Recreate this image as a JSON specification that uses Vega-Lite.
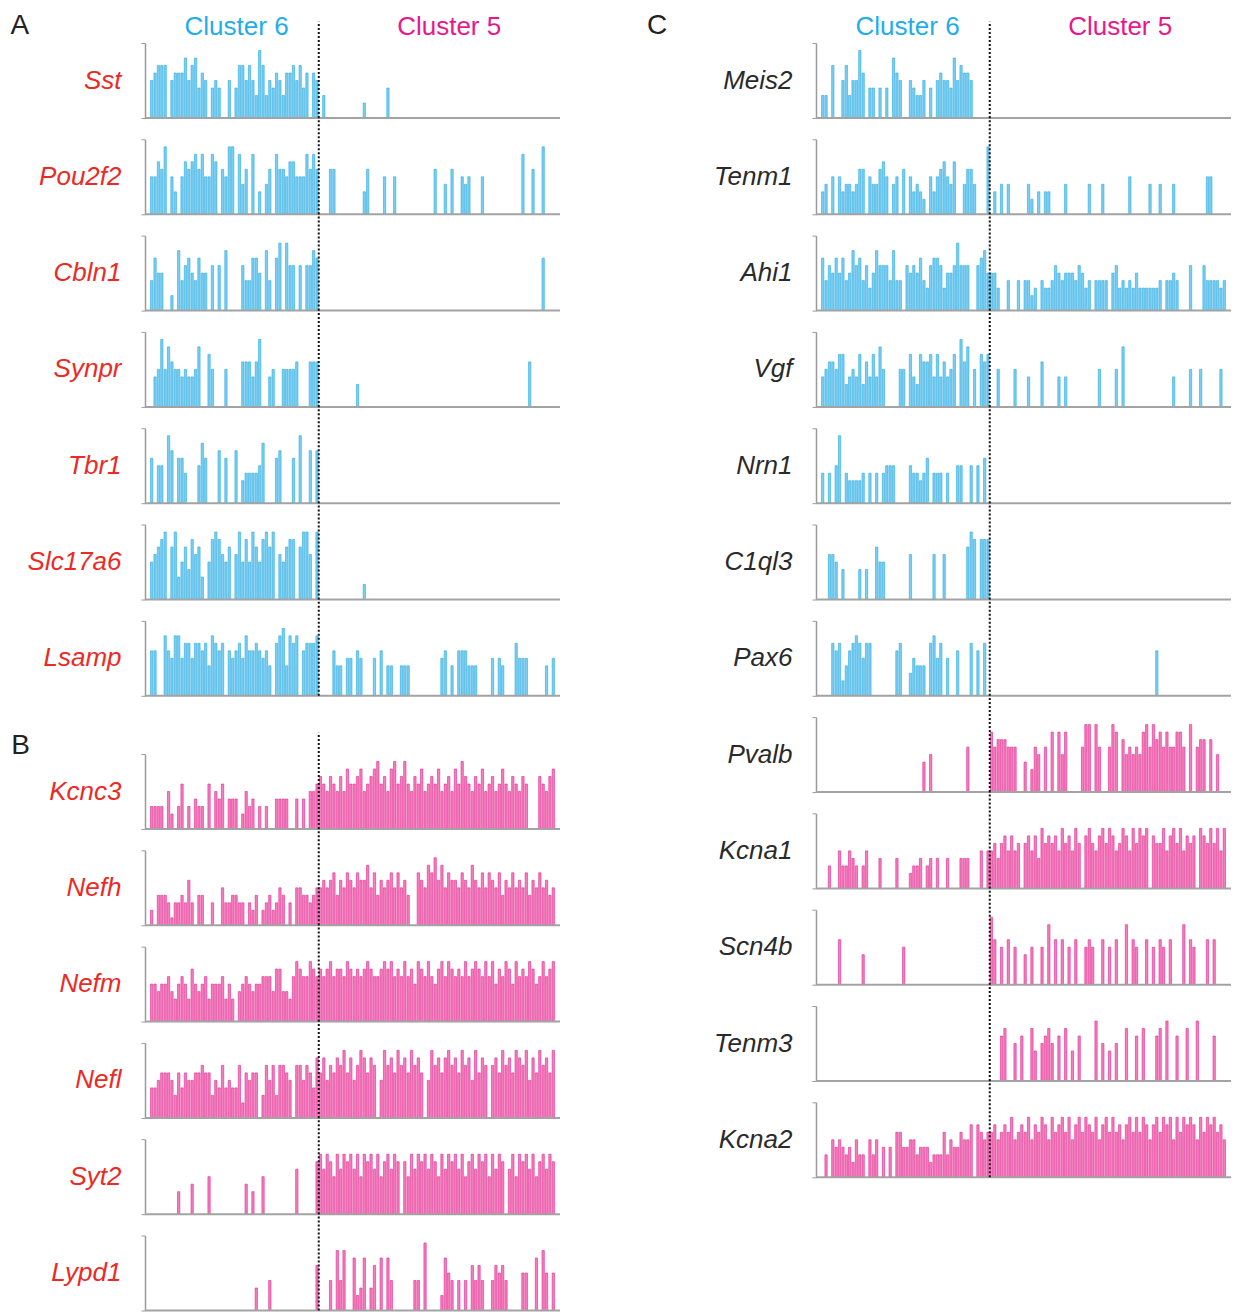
{
"$schema": "https://vega.github.io/schema/vega-lite/v6.json",
"padding": {"left": 10, "top": 12, "right": 0, "bottom": 0},
"background": "white",
"config": {"view": {"stroke": null}, "font": "Liberation Sans"},
"datasets": {
"genes": [
{"g":"Sst","p":"A","m":"6"},{"g":"Pou2f2","p":"A","m":"6"},{"g":"Cbln1","p":"A","m":"6"},{"g":"Synpr","p":"A","m":"6"},{"g":"Tbr1","p":"A","m":"6"},{"g":"Slc17a6","p":"A","m":"6"},{"g":"Lsamp","p":"A","m":"6"},
{"g":"Kcnc3","p":"B","m":"5"},{"g":"Nefh","p":"B","m":"5"},{"g":"Nefm","p":"B","m":"5"},{"g":"Nefl","p":"B","m":"5"},{"g":"Syt2","p":"B","m":"5"},{"g":"Lypd1","p":"B","m":"5"},
{"g":"Meis2","p":"C","m":"6"},{"g":"Tenm1","p":"C","m":"6"},{"g":"Ahi1","p":"C","m":"6"},{"g":"Vgf","p":"C","m":"6"},{"g":"Nrn1","p":"C","m":"6"},{"g":"C1ql3","p":"C","m":"6"},{"g":"Pax6","p":"C","m":"6"},
{"g":"Pvalb","p":"C","m":"5"},{"g":"Kcna1","p":"C","m":"5"},{"g":"Scn4b","p":"C","m":"5"},{"g":"Tenm3","p":"C","m":"5"},{"g":"Kcna2","p":"C","m":"5"}
],
"bars": [
{"g":"Sst","x":1,"v":5},{"g":"Sst","x":2,"v":6},{"g":"Sst","x":3,"v":7},{"g":"Sst","x":4,"v":7},{"g":"Sst","x":5,"v":7},{"g":"Sst","x":7,"v":5},{"g":"Sst","x":8,"v":6},{"g":"Sst","x":9,"v":6},{"g":"Sst","x":10,"v":6},{"g":"Sst","x":11,"v":8},{"g":"Sst","x":12,"v":5},{"g":"Sst","x":13,"v":7},{"g":"Sst","x":14,"v":8},{"g":"Sst","x":15,"v":4},{"g":"Sst","x":16,"v":6},{"g":"Sst","x":17,"v":5},{"g":"Sst","x":19,"v":4},{"g":"Sst","x":20,"v":5},{"g":"Sst","x":21,"v":4},{"g":"Sst","x":24,"v":5},{"g":"Sst","x":26,"v":4},{"g":"Sst","x":27,"v":7},{"g":"Sst","x":28,"v":7},{"g":"Sst","x":29,"v":5},{"g":"Sst","x":30,"v":7},{"g":"Sst","x":31,"v":5},{"g":"Sst","x":32,"v":3},{"g":"Sst","x":33,"v":9},{"g":"Sst","x":34,"v":7},{"g":"Sst","x":35,"v":3},{"g":"Sst","x":36,"v":5},{"g":"Sst","x":37,"v":4},{"g":"Sst","x":38,"v":6},{"g":"Sst","x":39,"v":5},{"g":"Sst","x":40,"v":3},{"g":"Sst","x":41,"v":6},{"g":"Sst","x":42,"v":6},{"g":"Sst","x":43,"v":7},{"g":"Sst","x":44,"v":5},{"g":"Sst","x":45,"v":7},{"g":"Sst","x":46,"v":4},{"g":"Sst","x":47,"v":6},{"g":"Sst","x":49,"v":6},{"g":"Sst","x":50,"v":5},
{"g":"Sst","x":52,"v":3},{"g":"Sst","x":64,"v":2},{"g":"Sst","x":71,"v":4},
{"g":"Pou2f2","x":1,"v":5},{"g":"Pou2f2","x":2,"v":5},{"g":"Pou2f2","x":3,"v":7},{"g":"Pou2f2","x":4,"v":6},{"g":"Pou2f2","x":5,"v":9},{"g":"Pou2f2","x":7,"v":5},{"g":"Pou2f2","x":8,"v":3},{"g":"Pou2f2","x":10,"v":5},{"g":"Pou2f2","x":11,"v":7},{"g":"Pou2f2","x":12,"v":6},{"g":"Pou2f2","x":13,"v":7},{"g":"Pou2f2","x":14,"v":8},{"g":"Pou2f2","x":15,"v":6},{"g":"Pou2f2","x":16,"v":8},{"g":"Pou2f2","x":17,"v":5},{"g":"Pou2f2","x":18,"v":5},{"g":"Pou2f2","x":19,"v":8},{"g":"Pou2f2","x":20,"v":7},{"g":"Pou2f2","x":22,"v":6},{"g":"Pou2f2","x":23,"v":5},{"g":"Pou2f2","x":24,"v":9},{"g":"Pou2f2","x":25,"v":9},{"g":"Pou2f2","x":27,"v":8},{"g":"Pou2f2","x":28,"v":4},{"g":"Pou2f2","x":29,"v":6},{"g":"Pou2f2","x":31,"v":8},{"g":"Pou2f2","x":33,"v":3},{"g":"Pou2f2","x":35,"v":4},{"g":"Pou2f2","x":36,"v":6},{"g":"Pou2f2","x":38,"v":8},{"g":"Pou2f2","x":39,"v":6},{"g":"Pou2f2","x":40,"v":6},{"g":"Pou2f2","x":41,"v":5},{"g":"Pou2f2","x":42,"v":7},{"g":"Pou2f2","x":43,"v":7},{"g":"Pou2f2","x":44,"v":5},{"g":"Pou2f2","x":45,"v":5},{"g":"Pou2f2","x":46,"v":5},{"g":"Pou2f2","x":47,"v":8},{"g":"Pou2f2","x":48,"v":6},{"g":"Pou2f2","x":49,"v":8},{"g":"Pou2f2","x":50,"v":6},
{"g":"Pou2f2","x":54,"v":6},{"g":"Pou2f2","x":55,"v":6},{"g":"Pou2f2","x":64,"v":3},{"g":"Pou2f2","x":65,"v":6},{"g":"Pou2f2","x":70,"v":5},{"g":"Pou2f2","x":73,"v":5},{"g":"Pou2f2","x":85,"v":6},{"g":"Pou2f2","x":88,"v":4},{"g":"Pou2f2","x":90,"v":6},{"g":"Pou2f2","x":93,"v":5},{"g":"Pou2f2","x":94,"v":4},{"g":"Pou2f2","x":95,"v":5},{"g":"Pou2f2","x":99,"v":5},{"g":"Pou2f2","x":111,"v":8},{"g":"Pou2f2","x":114,"v":6},{"g":"Pou2f2","x":117,"v":9},
{"g":"Cbln1","x":1,"v":4},{"g":"Cbln1","x":2,"v":7},{"g":"Cbln1","x":3,"v":5},{"g":"Cbln1","x":4,"v":5},{"g":"Cbln1","x":7,"v":2},{"g":"Cbln1","x":9,"v":8},{"g":"Cbln1","x":10,"v":4},{"g":"Cbln1","x":11,"v":6},{"g":"Cbln1","x":12,"v":7},{"g":"Cbln1","x":13,"v":5},{"g":"Cbln1","x":14,"v":4},{"g":"Cbln1","x":15,"v":7},{"g":"Cbln1","x":16,"v":5},{"g":"Cbln1","x":17,"v":5},{"g":"Cbln1","x":19,"v":6},{"g":"Cbln1","x":21,"v":6},{"g":"Cbln1","x":23,"v":8},{"g":"Cbln1","x":28,"v":6},{"g":"Cbln1","x":29,"v":4},{"g":"Cbln1","x":30,"v":4},{"g":"Cbln1","x":31,"v":7},{"g":"Cbln1","x":32,"v":7},{"g":"Cbln1","x":33,"v":5},{"g":"Cbln1","x":35,"v":8},{"g":"Cbln1","x":36,"v":4},{"g":"Cbln1","x":38,"v":7},{"g":"Cbln1","x":39,"v":9},{"g":"Cbln1","x":41,"v":9},{"g":"Cbln1","x":42,"v":6},{"g":"Cbln1","x":43,"v":6},{"g":"Cbln1","x":45,"v":6},{"g":"Cbln1","x":47,"v":6},{"g":"Cbln1","x":48,"v":6},{"g":"Cbln1","x":49,"v":8},{"g":"Cbln1","x":50,"v":7},
{"g":"Cbln1","x":117,"v":7},
{"g":"Synpr","x":2,"v":4},{"g":"Synpr","x":3,"v":5},{"g":"Synpr","x":4,"v":9},{"g":"Synpr","x":5,"v":5},{"g":"Synpr","x":6,"v":8},{"g":"Synpr","x":7,"v":6},{"g":"Synpr","x":8,"v":5},{"g":"Synpr","x":9,"v":5},{"g":"Synpr","x":10,"v":4},{"g":"Synpr","x":11,"v":5},{"g":"Synpr","x":12,"v":4},{"g":"Synpr","x":13,"v":4},{"g":"Synpr","x":14,"v":5},{"g":"Synpr","x":15,"v":8},{"g":"Synpr","x":18,"v":7},{"g":"Synpr","x":19,"v":5},{"g":"Synpr","x":23,"v":5},{"g":"Synpr","x":28,"v":6},{"g":"Synpr","x":29,"v":6},{"g":"Synpr","x":30,"v":6},{"g":"Synpr","x":31,"v":4},{"g":"Synpr","x":32,"v":6},{"g":"Synpr","x":33,"v":9},{"g":"Synpr","x":36,"v":4},{"g":"Synpr","x":37,"v":5},{"g":"Synpr","x":40,"v":5},{"g":"Synpr","x":41,"v":5},{"g":"Synpr","x":42,"v":5},{"g":"Synpr","x":43,"v":5},{"g":"Synpr","x":44,"v":6},{"g":"Synpr","x":48,"v":6},{"g":"Synpr","x":49,"v":6},{"g":"Synpr","x":50,"v":6},
{"g":"Synpr","x":62,"v":3},{"g":"Synpr","x":113,"v":6},
{"g":"Tbr1","x":1,"v":6},{"g":"Tbr1","x":3,"v":5},{"g":"Tbr1","x":4,"v":5},{"g":"Tbr1","x":6,"v":9},{"g":"Tbr1","x":7,"v":7},{"g":"Tbr1","x":9,"v":6},{"g":"Tbr1","x":10,"v":6},{"g":"Tbr1","x":11,"v":4},{"g":"Tbr1","x":15,"v":5},{"g":"Tbr1","x":16,"v":8},{"g":"Tbr1","x":17,"v":6},{"g":"Tbr1","x":21,"v":7},{"g":"Tbr1","x":23,"v":6},{"g":"Tbr1","x":26,"v":7},{"g":"Tbr1","x":28,"v":3},{"g":"Tbr1","x":29,"v":4},{"g":"Tbr1","x":30,"v":4},{"g":"Tbr1","x":31,"v":4},{"g":"Tbr1","x":32,"v":4},{"g":"Tbr1","x":33,"v":5},{"g":"Tbr1","x":34,"v":8},{"g":"Tbr1","x":38,"v":6},{"g":"Tbr1","x":39,"v":7},{"g":"Tbr1","x":43,"v":6},{"g":"Tbr1","x":45,"v":9},{"g":"Tbr1","x":48,"v":7},{"g":"Tbr1","x":50,"v":7},
{"g":"Slc17a6","x":1,"v":5},{"g":"Slc17a6","x":2,"v":6},{"g":"Slc17a6","x":3,"v":7},{"g":"Slc17a6","x":4,"v":8},{"g":"Slc17a6","x":5,"v":9},{"g":"Slc17a6","x":7,"v":7},{"g":"Slc17a6","x":8,"v":9},{"g":"Slc17a6","x":9,"v":3},{"g":"Slc17a6","x":10,"v":5},{"g":"Slc17a6","x":11,"v":7},{"g":"Slc17a6","x":12,"v":4},{"g":"Slc17a6","x":13,"v":8},{"g":"Slc17a6","x":14,"v":6},{"g":"Slc17a6","x":15,"v":7},{"g":"Slc17a6","x":16,"v":3},{"g":"Slc17a6","x":18,"v":5},{"g":"Slc17a6","x":19,"v":8},{"g":"Slc17a6","x":20,"v":9},{"g":"Slc17a6","x":21,"v":8},{"g":"Slc17a6","x":22,"v":6},{"g":"Slc17a6","x":23,"v":5},{"g":"Slc17a6","x":24,"v":7},{"g":"Slc17a6","x":26,"v":6},{"g":"Slc17a6","x":27,"v":9},{"g":"Slc17a6","x":28,"v":5},{"g":"Slc17a6","x":29,"v":8},{"g":"Slc17a6","x":30,"v":5},{"g":"Slc17a6","x":31,"v":9},{"g":"Slc17a6","x":32,"v":7},{"g":"Slc17a6","x":33,"v":5},{"g":"Slc17a6","x":34,"v":8},{"g":"Slc17a6","x":35,"v":9},{"g":"Slc17a6","x":36,"v":7},{"g":"Slc17a6","x":37,"v":9},{"g":"Slc17a6","x":39,"v":6},{"g":"Slc17a6","x":40,"v":5},{"g":"Slc17a6","x":41,"v":7},{"g":"Slc17a6","x":42,"v":8},{"g":"Slc17a6","x":43,"v":8},{"g":"Slc17a6","x":45,"v":7},{"g":"Slc17a6","x":46,"v":9},{"g":"Slc17a6","x":47,"v":9},{"g":"Slc17a6","x":48,"v":6},{"g":"Slc17a6","x":50,"v":9},
{"g":"Slc17a6","x":64,"v":2},
{"g":"Lsamp","x":1,"v":6},{"g":"Lsamp","x":2,"v":6},{"g":"Lsamp","x":5,"v":8},{"g":"Lsamp","x":6,"v":6},{"g":"Lsamp","x":7,"v":5},{"g":"Lsamp","x":8,"v":8},{"g":"Lsamp","x":9,"v":8},{"g":"Lsamp","x":10,"v":5},{"g":"Lsamp","x":11,"v":7},{"g":"Lsamp","x":12,"v":7},{"g":"Lsamp","x":13,"v":5},{"g":"Lsamp","x":14,"v":7},{"g":"Lsamp","x":15,"v":7},{"g":"Lsamp","x":16,"v":6},{"g":"Lsamp","x":17,"v":7},{"g":"Lsamp","x":18,"v":4},{"g":"Lsamp","x":19,"v":8},{"g":"Lsamp","x":20,"v":7},{"g":"Lsamp","x":21,"v":6},{"g":"Lsamp","x":22,"v":7},{"g":"Lsamp","x":24,"v":6},{"g":"Lsamp","x":25,"v":5},{"g":"Lsamp","x":26,"v":6},{"g":"Lsamp","x":27,"v":7},{"g":"Lsamp","x":28,"v":5},{"g":"Lsamp","x":29,"v":8},{"g":"Lsamp","x":30,"v":6},{"g":"Lsamp","x":31,"v":6},{"g":"Lsamp","x":32,"v":7},{"g":"Lsamp","x":33,"v":6},{"g":"Lsamp","x":34,"v":5},{"g":"Lsamp","x":35,"v":6},{"g":"Lsamp","x":36,"v":4},{"g":"Lsamp","x":38,"v":7},{"g":"Lsamp","x":39,"v":8},{"g":"Lsamp","x":40,"v":9},{"g":"Lsamp","x":41,"v":4},{"g":"Lsamp","x":42,"v":8},{"g":"Lsamp","x":43,"v":7},{"g":"Lsamp","x":44,"v":8},{"g":"Lsamp","x":46,"v":6},{"g":"Lsamp","x":47,"v":7},{"g":"Lsamp","x":48,"v":7},{"g":"Lsamp","x":49,"v":7},{"g":"Lsamp","x":50,"v":8},
{"g":"Lsamp","x":55,"v":6},{"g":"Lsamp","x":56,"v":4},{"g":"Lsamp","x":57,"v":4},{"g":"Lsamp","x":59,"v":5},{"g":"Lsamp","x":60,"v":5},{"g":"Lsamp","x":62,"v":6},{"g":"Lsamp","x":63,"v":5},{"g":"Lsamp","x":67,"v":5},{"g":"Lsamp","x":69,"v":6},{"g":"Lsamp","x":71,"v":4},{"g":"Lsamp","x":72,"v":4},{"g":"Lsamp","x":75,"v":4},{"g":"Lsamp","x":76,"v":4},{"g":"Lsamp","x":77,"v":4},{"g":"Lsamp","x":87,"v":5},{"g":"Lsamp","x":88,"v":6},{"g":"Lsamp","x":90,"v":4},{"g":"Lsamp","x":92,"v":6},{"g":"Lsamp","x":93,"v":6},{"g":"Lsamp","x":94,"v":6},{"g":"Lsamp","x":95,"v":4},{"g":"Lsamp","x":96,"v":4},{"g":"Lsamp","x":97,"v":4},{"g":"Lsamp","x":102,"v":5},{"g":"Lsamp","x":104,"v":5},{"g":"Lsamp","x":105,"v":4},{"g":"Lsamp","x":109,"v":7},{"g":"Lsamp","x":110,"v":5},{"g":"Lsamp","x":111,"v":5},{"g":"Lsamp","x":112,"v":5},{"g":"Lsamp","x":118,"v":4},{"g":"Lsamp","x":120,"v":5},
{"g":"Kcnc3","x":1,"v":3},{"g":"Kcnc3","x":2,"v":3},{"g":"Kcnc3","x":3,"v":3},{"g":"Kcnc3","x":4,"v":3},{"g":"Kcnc3","x":6,"v":5},{"g":"Kcnc3","x":7,"v":2},{"g":"Kcnc3","x":9,"v":3},{"g":"Kcnc3","x":10,"v":6},{"g":"Kcnc3","x":12,"v":3},{"g":"Kcnc3","x":14,"v":4},{"g":"Kcnc3","x":15,"v":3},{"g":"Kcnc3","x":16,"v":3},{"g":"Kcnc3","x":18,"v":6},{"g":"Kcnc3","x":20,"v":5},{"g":"Kcnc3","x":21,"v":4},{"g":"Kcnc3","x":22,"v":6},{"g":"Kcnc3","x":24,"v":4},{"g":"Kcnc3","x":25,"v":4},{"g":"Kcnc3","x":26,"v":4},{"g":"Kcnc3","x":28,"v":2},{"g":"Kcnc3","x":29,"v":5},{"g":"Kcnc3","x":30,"v":3},{"g":"Kcnc3","x":31,"v":4},{"g":"Kcnc3","x":33,"v":3},{"g":"Kcnc3","x":35,"v":3},{"g":"Kcnc3","x":38,"v":4},{"g":"Kcnc3","x":39,"v":4},{"g":"Kcnc3","x":40,"v":4},{"g":"Kcnc3","x":41,"v":4},{"g":"Kcnc3","x":44,"v":4},{"g":"Kcnc3","x":46,"v":4},{"g":"Kcnc3","x":48,"v":5},{"g":"Kcnc3","x":49,"v":5},{"g":"Kcnc3","x":50,"v":6},
{"g":"Kcnc3","x":51,"v":7},{"g":"Kcnc3","x":52,"v":6},{"g":"Kcnc3","x":53,"v":5},{"g":"Kcnc3","x":54,"v":7},{"g":"Kcnc3","x":55,"v":6},{"g":"Kcnc3","x":56,"v":5},{"g":"Kcnc3","x":57,"v":7},{"g":"Kcnc3","x":58,"v":5},{"g":"Kcnc3","x":59,"v":8},{"g":"Kcnc3","x":60,"v":6},{"g":"Kcnc3","x":61,"v":6},{"g":"Kcnc3","x":62,"v":7},{"g":"Kcnc3","x":63,"v":8},{"g":"Kcnc3","x":64,"v":5},{"g":"Kcnc3","x":65,"v":6},{"g":"Kcnc3","x":66,"v":7},{"g":"Kcnc3","x":67,"v":8},{"g":"Kcnc3","x":68,"v":9},{"g":"Kcnc3","x":69,"v":6},{"g":"Kcnc3","x":70,"v":7},{"g":"Kcnc3","x":71,"v":5},{"g":"Kcnc3","x":72,"v":8},{"g":"Kcnc3","x":73,"v":9},{"g":"Kcnc3","x":74,"v":6},{"g":"Kcnc3","x":75,"v":7},{"g":"Kcnc3","x":76,"v":9},{"g":"Kcnc3","x":77,"v":6},{"g":"Kcnc3","x":78,"v":5},{"g":"Kcnc3","x":79,"v":7},{"g":"Kcnc3","x":80,"v":6},{"g":"Kcnc3","x":81,"v":8},{"g":"Kcnc3","x":82,"v":5},{"g":"Kcnc3","x":83,"v":6},{"g":"Kcnc3","x":84,"v":7},{"g":"Kcnc3","x":85,"v":6},{"g":"Kcnc3","x":86,"v":8},{"g":"Kcnc3","x":87,"v":5},{"g":"Kcnc3","x":88,"v":6},{"g":"Kcnc3","x":89,"v":7},{"g":"Kcnc3","x":90,"v":5},{"g":"Kcnc3","x":91,"v":8},{"g":"Kcnc3","x":92,"v":6},{"g":"Kcnc3","x":93,"v":9},{"g":"Kcnc3","x":94,"v":7},{"g":"Kcnc3","x":95,"v":6},{"g":"Kcnc3","x":96,"v":5},{"g":"Kcnc3","x":97,"v":7},{"g":"Kcnc3","x":98,"v":6},{"g":"Kcnc3","x":99,"v":8},{"g":"Kcnc3","x":100,"v":5},{"g":"Kcnc3","x":101,"v":6},{"g":"Kcnc3","x":102,"v":7},{"g":"Kcnc3","x":103,"v":5},{"g":"Kcnc3","x":104,"v":6},{"g":"Kcnc3","x":105,"v":8},{"g":"Kcnc3","x":106,"v":6},{"g":"Kcnc3","x":107,"v":5},{"g":"Kcnc3","x":108,"v":7},{"g":"Kcnc3","x":109,"v":6},{"g":"Kcnc3","x":110,"v":5},{"g":"Kcnc3","x":111,"v":7},{"g":"Kcnc3","x":112,"v":6},{"g":"Kcnc3","x":116,"v":7},{"g":"Kcnc3","x":117,"v":6},{"g":"Kcnc3","x":118,"v":5},{"g":"Kcnc3","x":119,"v":7},{"g":"Kcnc3","x":120,"v":8},
{"g":"Nefh","x":1,"v":2},{"g":"Nefh","x":3,"v":4},{"g":"Nefh","x":4,"v":4},{"g":"Nefh","x":5,"v":4},{"g":"Nefh","x":6,"v":3},{"g":"Nefh","x":7,"v":1},{"g":"Nefh","x":8,"v":3},{"g":"Nefh","x":9,"v":3},{"g":"Nefh","x":10,"v":4},{"g":"Nefh","x":11,"v":3},{"g":"Nefh","x":12,"v":6},{"g":"Nefh","x":13,"v":3},{"g":"Nefh","x":15,"v":4},{"g":"Nefh","x":16,"v":4},{"g":"Nefh","x":19,"v":3},{"g":"Nefh","x":22,"v":5},{"g":"Nefh","x":23,"v":3},{"g":"Nefh","x":24,"v":3},{"g":"Nefh","x":25,"v":4},{"g":"Nefh","x":26,"v":4},{"g":"Nefh","x":27,"v":3},{"g":"Nefh","x":28,"v":3},{"g":"Nefh","x":30,"v":3},{"g":"Nefh","x":31,"v":2},{"g":"Nefh","x":32,"v":4},{"g":"Nefh","x":34,"v":2},{"g":"Nefh","x":35,"v":3},{"g":"Nefh","x":36,"v":4},{"g":"Nefh","x":37,"v":2},{"g":"Nefh","x":38,"v":3},{"g":"Nefh","x":39,"v":5},{"g":"Nefh","x":40,"v":4},{"g":"Nefh","x":42,"v":3},{"g":"Nefh","x":44,"v":5},{"g":"Nefh","x":45,"v":5},{"g":"Nefh","x":46,"v":4},{"g":"Nefh","x":47,"v":4},{"g":"Nefh","x":48,"v":3},{"g":"Nefh","x":49,"v":4},{"g":"Nefh","x":50,"v":5},
{"g":"Nefh","x":51,"v":5},{"g":"Nefh","x":52,"v":6},{"g":"Nefh","x":53,"v":5},{"g":"Nefh","x":54,"v":6},{"g":"Nefh","x":55,"v":7},{"g":"Nefh","x":56,"v":4},{"g":"Nefh","x":57,"v":6},{"g":"Nefh","x":58,"v":5},{"g":"Nefh","x":59,"v":7},{"g":"Nefh","x":60,"v":6},{"g":"Nefh","x":61,"v":5},{"g":"Nefh","x":62,"v":7},{"g":"Nefh","x":63,"v":6},{"g":"Nefh","x":64,"v":6},{"g":"Nefh","x":65,"v":8},{"g":"Nefh","x":66,"v":5},{"g":"Nefh","x":67,"v":7},{"g":"Nefh","x":68,"v":4},{"g":"Nefh","x":69,"v":6},{"g":"Nefh","x":70,"v":5},{"g":"Nefh","x":71,"v":6},{"g":"Nefh","x":72,"v":7},{"g":"Nefh","x":73,"v":5},{"g":"Nefh","x":74,"v":7},{"g":"Nefh","x":75,"v":5},{"g":"Nefh","x":76,"v":6},{"g":"Nefh","x":77,"v":4},{"g":"Nefh","x":80,"v":7},{"g":"Nefh","x":81,"v":6},{"g":"Nefh","x":82,"v":5},{"g":"Nefh","x":83,"v":8},{"g":"Nefh","x":84,"v":7},{"g":"Nefh","x":85,"v":9},{"g":"Nefh","x":86,"v":6},{"g":"Nefh","x":87,"v":8},{"g":"Nefh","x":88,"v":5},{"g":"Nefh","x":89,"v":7},{"g":"Nefh","x":90,"v":6},{"g":"Nefh","x":91,"v":6},{"g":"Nefh","x":92,"v":5},{"g":"Nefh","x":93,"v":7},{"g":"Nefh","x":94,"v":6},{"g":"Nefh","x":95,"v":5},{"g":"Nefh","x":96,"v":8},{"g":"Nefh","x":97,"v":6},{"g":"Nefh","x":98,"v":5},{"g":"Nefh","x":99,"v":7},{"g":"Nefh","x":100,"v":5},{"g":"Nefh","x":101,"v":7},{"g":"Nefh","x":102,"v":6},{"g":"Nefh","x":103,"v":5},{"g":"Nefh","x":104,"v":7},{"g":"Nefh","x":105,"v":4},{"g":"Nefh","x":106,"v":6},{"g":"Nefh","x":107,"v":5},{"g":"Nefh","x":108,"v":7},{"g":"Nefh","x":109,"v":5},{"g":"Nefh","x":110,"v":6},{"g":"Nefh","x":111,"v":5},{"g":"Nefh","x":112,"v":7},{"g":"Nefh","x":113,"v":4},{"g":"Nefh","x":114,"v":6},{"g":"Nefh","x":115,"v":5},{"g":"Nefh","x":116,"v":7},{"g":"Nefh","x":117,"v":5},{"g":"Nefh","x":118,"v":6},{"g":"Nefh","x":119,"v":4},{"g":"Nefh","x":120,"v":5},
{"g":"Nefm","x":1,"v":5},{"g":"Nefm","x":2,"v":5},{"g":"Nefm","x":3,"v":4},{"g":"Nefm","x":4,"v":5},{"g":"Nefm","x":5,"v":5},{"g":"Nefm","x":6,"v":6},{"g":"Nefm","x":7,"v":4},{"g":"Nefm","x":8,"v":3},{"g":"Nefm","x":9,"v":5},{"g":"Nefm","x":10,"v":6},{"g":"Nefm","x":11,"v":5},{"g":"Nefm","x":12,"v":3},{"g":"Nefm","x":13,"v":7},{"g":"Nefm","x":14,"v":5},{"g":"Nefm","x":15,"v":4},{"g":"Nefm","x":16,"v":5},{"g":"Nefm","x":17,"v":6},{"g":"Nefm","x":18,"v":3},{"g":"Nefm","x":19,"v":5},{"g":"Nefm","x":20,"v":5},{"g":"Nefm","x":21,"v":5},{"g":"Nefm","x":22,"v":6},{"g":"Nefm","x":23,"v":3},{"g":"Nefm","x":24,"v":5},{"g":"Nefm","x":25,"v":3},{"g":"Nefm","x":27,"v":4},{"g":"Nefm","x":28,"v":5},{"g":"Nefm","x":29,"v":6},{"g":"Nefm","x":30,"v":5},{"g":"Nefm","x":31,"v":4},{"g":"Nefm","x":32,"v":5},{"g":"Nefm","x":33,"v":5},{"g":"Nefm","x":34,"v":6},{"g":"Nefm","x":35,"v":6},{"g":"Nefm","x":36,"v":6},{"g":"Nefm","x":37,"v":4},{"g":"Nefm","x":38,"v":7},{"g":"Nefm","x":39,"v":7},{"g":"Nefm","x":40,"v":4},{"g":"Nefm","x":41,"v":4},{"g":"Nefm","x":42,"v":3},{"g":"Nefm","x":43,"v":6},{"g":"Nefm","x":44,"v":8},{"g":"Nefm","x":45,"v":7},{"g":"Nefm","x":46,"v":6},{"g":"Nefm","x":47,"v":6},{"g":"Nefm","x":48,"v":8},{"g":"Nefm","x":49,"v":7},{"g":"Nefm","x":50,"v":6},
{"g":"Nefm","x":51,"v":7},{"g":"Nefm","x":52,"v":6},{"g":"Nefm","x":53,"v":7},{"g":"Nefm","x":54,"v":8},{"g":"Nefm","x":55,"v":6},{"g":"Nefm","x":56,"v":7},{"g":"Nefm","x":57,"v":7},{"g":"Nefm","x":58,"v":6},{"g":"Nefm","x":59,"v":8},{"g":"Nefm","x":60,"v":7},{"g":"Nefm","x":61,"v":6},{"g":"Nefm","x":62,"v":7},{"g":"Nefm","x":63,"v":6},{"g":"Nefm","x":64,"v":7},{"g":"Nefm","x":65,"v":8},{"g":"Nefm","x":66,"v":7},{"g":"Nefm","x":67,"v":6},{"g":"Nefm","x":68,"v":6},{"g":"Nefm","x":69,"v":7},{"g":"Nefm","x":70,"v":8},{"g":"Nefm","x":71,"v":7},{"g":"Nefm","x":72,"v":8},{"g":"Nefm","x":73,"v":6},{"g":"Nefm","x":74,"v":7},{"g":"Nefm","x":75,"v":6},{"g":"Nefm","x":76,"v":8},{"g":"Nefm","x":77,"v":6},{"g":"Nefm","x":78,"v":7},{"g":"Nefm","x":79,"v":5},{"g":"Nefm","x":80,"v":8},{"g":"Nefm","x":81,"v":7},{"g":"Nefm","x":82,"v":6},{"g":"Nefm","x":83,"v":8},{"g":"Nefm","x":84,"v":6},{"g":"Nefm","x":85,"v":5},{"g":"Nefm","x":86,"v":7},{"g":"Nefm","x":87,"v":8},{"g":"Nefm","x":88,"v":6},{"g":"Nefm","x":89,"v":8},{"g":"Nefm","x":90,"v":7},{"g":"Nefm","x":91,"v":6},{"g":"Nefm","x":92,"v":7},{"g":"Nefm","x":93,"v":6},{"g":"Nefm","x":94,"v":8},{"g":"Nefm","x":95,"v":6},{"g":"Nefm","x":96,"v":7},{"g":"Nefm","x":97,"v":8},{"g":"Nefm","x":98,"v":7},{"g":"Nefm","x":99,"v":6},{"g":"Nefm","x":100,"v":8},{"g":"Nefm","x":101,"v":6},{"g":"Nefm","x":102,"v":8},{"g":"Nefm","x":103,"v":5},{"g":"Nefm","x":104,"v":7},{"g":"Nefm","x":105,"v":6},{"g":"Nefm","x":106,"v":8},{"g":"Nefm","x":107,"v":7},{"g":"Nefm","x":108,"v":5},{"g":"Nefm","x":109,"v":8},{"g":"Nefm","x":110,"v":6},{"g":"Nefm","x":111,"v":7},{"g":"Nefm","x":112,"v":6},{"g":"Nefm","x":113,"v":8},{"g":"Nefm","x":114,"v":7},{"g":"Nefm","x":115,"v":5},{"g":"Nefm","x":116,"v":6},{"g":"Nefm","x":117,"v":8},{"g":"Nefm","x":118,"v":6},{"g":"Nefm","x":119,"v":7},{"g":"Nefm","x":120,"v":8},
{"g":"Nefl","x":1,"v":4},{"g":"Nefl","x":2,"v":4},{"g":"Nefl","x":3,"v":5},{"g":"Nefl","x":4,"v":6},{"g":"Nefl","x":5,"v":6},{"g":"Nefl","x":6,"v":6},{"g":"Nefl","x":7,"v":5},{"g":"Nefl","x":8,"v":3},{"g":"Nefl","x":9,"v":6},{"g":"Nefl","x":10,"v":4},{"g":"Nefl","x":11,"v":6},{"g":"Nefl","x":12,"v":5},{"g":"Nefl","x":13,"v":5},{"g":"Nefl","x":14,"v":6},{"g":"Nefl","x":15,"v":6},{"g":"Nefl","x":16,"v":7},{"g":"Nefl","x":17,"v":6},{"g":"Nefl","x":18,"v":6},{"g":"Nefl","x":19,"v":3},{"g":"Nefl","x":20,"v":5},{"g":"Nefl","x":21,"v":4},{"g":"Nefl","x":22,"v":7},{"g":"Nefl","x":23,"v":4},{"g":"Nefl","x":24,"v":5},{"g":"Nefl","x":25,"v":4},{"g":"Nefl","x":26,"v":4},{"g":"Nefl","x":27,"v":7},{"g":"Nefl","x":28,"v":2},{"g":"Nefl","x":29,"v":6},{"g":"Nefl","x":30,"v":5},{"g":"Nefl","x":31,"v":6},{"g":"Nefl","x":32,"v":6},{"g":"Nefl","x":34,"v":3},{"g":"Nefl","x":35,"v":7},{"g":"Nefl","x":36,"v":5},{"g":"Nefl","x":37,"v":7},{"g":"Nefl","x":38,"v":3},{"g":"Nefl","x":39,"v":7},{"g":"Nefl","x":40,"v":7},{"g":"Nefl","x":41,"v":6},{"g":"Nefl","x":42,"v":5},{"g":"Nefl","x":44,"v":7},{"g":"Nefl","x":45,"v":7},{"g":"Nefl","x":46,"v":5},{"g":"Nefl","x":47,"v":7},{"g":"Nefl","x":48,"v":6},{"g":"Nefl","x":49,"v":4},{"g":"Nefl","x":50,"v":8},
{"g":"Nefl","x":51,"v":6},{"g":"Nefl","x":52,"v":8},{"g":"Nefl","x":53,"v":5},{"g":"Nefl","x":54,"v":7},{"g":"Nefl","x":55,"v":6},{"g":"Nefl","x":56,"v":8},{"g":"Nefl","x":57,"v":7},{"g":"Nefl","x":58,"v":9},{"g":"Nefl","x":59,"v":6},{"g":"Nefl","x":60,"v":8},{"g":"Nefl","x":61,"v":5},{"g":"Nefl","x":62,"v":7},{"g":"Nefl","x":63,"v":9},{"g":"Nefl","x":64,"v":8},{"g":"Nefl","x":65,"v":6},{"g":"Nefl","x":66,"v":8},{"g":"Nefl","x":67,"v":7},{"g":"Nefl","x":69,"v":5},{"g":"Nefl","x":70,"v":9},{"g":"Nefl","x":71,"v":7},{"g":"Nefl","x":72,"v":8},{"g":"Nefl","x":73,"v":6},{"g":"Nefl","x":74,"v":9},{"g":"Nefl","x":75,"v":7},{"g":"Nefl","x":76,"v":8},{"g":"Nefl","x":77,"v":6},{"g":"Nefl","x":78,"v":9},{"g":"Nefl","x":79,"v":7},{"g":"Nefl","x":80,"v":8},{"g":"Nefl","x":81,"v":6},{"g":"Nefl","x":83,"v":5},{"g":"Nefl","x":84,"v":9},{"g":"Nefl","x":85,"v":7},{"g":"Nefl","x":86,"v":8},{"g":"Nefl","x":87,"v":6},{"g":"Nefl","x":88,"v":8},{"g":"Nefl","x":89,"v":9},{"g":"Nefl","x":90,"v":7},{"g":"Nefl","x":91,"v":8},{"g":"Nefl","x":92,"v":6},{"g":"Nefl","x":93,"v":9},{"g":"Nefl","x":94,"v":7},{"g":"Nefl","x":95,"v":8},{"g":"Nefl","x":96,"v":5},{"g":"Nefl","x":97,"v":9},{"g":"Nefl","x":98,"v":6},{"g":"Nefl","x":99,"v":8},{"g":"Nefl","x":100,"v":7},{"g":"Nefl","x":102,"v":7},{"g":"Nefl","x":103,"v":8},{"g":"Nefl","x":104,"v":6},{"g":"Nefl","x":105,"v":9},{"g":"Nefl","x":106,"v":7},{"g":"Nefl","x":107,"v":8},{"g":"Nefl","x":108,"v":6},{"g":"Nefl","x":109,"v":9},{"g":"Nefl","x":110,"v":8},{"g":"Nefl","x":111,"v":7},{"g":"Nefl","x":112,"v":9},{"g":"Nefl","x":113,"v":5},{"g":"Nefl","x":114,"v":8},{"g":"Nefl","x":115,"v":6},{"g":"Nefl","x":116,"v":9},{"g":"Nefl","x":117,"v":7},{"g":"Nefl","x":118,"v":8},{"g":"Nefl","x":119,"v":6},{"g":"Nefl","x":120,"v":9},
{"g":"Syt2","x":9,"v":3},{"g":"Syt2","x":13,"v":4},{"g":"Syt2","x":18,"v":5},{"g":"Syt2","x":29,"v":4},{"g":"Syt2","x":31,"v":3},{"g":"Syt2","x":34,"v":5},{"g":"Syt2","x":44,"v":6},{"g":"Syt2","x":50,"v":7},
{"g":"Syt2","x":51,"v":8},{"g":"Syt2","x":52,"v":6},{"g":"Syt2","x":53,"v":8},{"g":"Syt2","x":54,"v":7},{"g":"Syt2","x":55,"v":5},{"g":"Syt2","x":56,"v":8},{"g":"Syt2","x":57,"v":6},{"g":"Syt2","x":58,"v":8},{"g":"Syt2","x":59,"v":7},{"g":"Syt2","x":60,"v":8},{"g":"Syt2","x":61,"v":6},{"g":"Syt2","x":62,"v":8},{"g":"Syt2","x":63,"v":5},{"g":"Syt2","x":64,"v":8},{"g":"Syt2","x":65,"v":7},{"g":"Syt2","x":66,"v":8},{"g":"Syt2","x":67,"v":6},{"g":"Syt2","x":68,"v":8},{"g":"Syt2","x":69,"v":5},{"g":"Syt2","x":70,"v":7},{"g":"Syt2","x":71,"v":8},{"g":"Syt2","x":72,"v":6},{"g":"Syt2","x":73,"v":8},{"g":"Syt2","x":74,"v":7},{"g":"Syt2","x":76,"v":7},{"g":"Syt2","x":77,"v":5},{"g":"Syt2","x":78,"v":8},{"g":"Syt2","x":79,"v":6},{"g":"Syt2","x":80,"v":8},{"g":"Syt2","x":81,"v":7},{"g":"Syt2","x":82,"v":8},{"g":"Syt2","x":83,"v":6},{"g":"Syt2","x":84,"v":8},{"g":"Syt2","x":85,"v":7},{"g":"Syt2","x":86,"v":5},{"g":"Syt2","x":87,"v":8},{"g":"Syt2","x":88,"v":6},{"g":"Syt2","x":89,"v":8},{"g":"Syt2","x":90,"v":7},{"g":"Syt2","x":91,"v":8},{"g":"Syt2","x":92,"v":6},{"g":"Syt2","x":93,"v":8},{"g":"Syt2","x":94,"v":5},{"g":"Syt2","x":95,"v":7},{"g":"Syt2","x":96,"v":8},{"g":"Syt2","x":97,"v":6},{"g":"Syt2","x":98,"v":8},{"g":"Syt2","x":99,"v":7},{"g":"Syt2","x":100,"v":8},{"g":"Syt2","x":101,"v":5},{"g":"Syt2","x":102,"v":8},{"g":"Syt2","x":103,"v":6},{"g":"Syt2","x":104,"v":8},{"g":"Syt2","x":105,"v":7},{"g":"Syt2","x":107,"v":6},{"g":"Syt2","x":108,"v":8},{"g":"Syt2","x":109,"v":5},{"g":"Syt2","x":110,"v":8},{"g":"Syt2","x":111,"v":7},{"g":"Syt2","x":112,"v":8},{"g":"Syt2","x":113,"v":6},{"g":"Syt2","x":114,"v":8},{"g":"Syt2","x":115,"v":5},{"g":"Syt2","x":116,"v":7},{"g":"Syt2","x":117,"v":8},{"g":"Syt2","x":118,"v":6},{"g":"Syt2","x":119,"v":8},{"g":"Syt2","x":120,"v":7},
{"g":"Lypd1","x":32,"v":3},{"g":"Lypd1","x":36,"v":4},{"g":"Lypd1","x":50,"v":6},
{"g":"Lypd1","x":54,"v":4},{"g":"Lypd1","x":56,"v":8},{"g":"Lypd1","x":57,"v":4},{"g":"Lypd1","x":58,"v":8},{"g":"Lypd1","x":61,"v":7},{"g":"Lypd1","x":62,"v":2},{"g":"Lypd1","x":63,"v":3},{"g":"Lypd1","x":64,"v":7},{"g":"Lypd1","x":66,"v":3},{"g":"Lypd1","x":67,"v":6},{"g":"Lypd1","x":69,"v":7},{"g":"Lypd1","x":71,"v":7},{"g":"Lypd1","x":72,"v":4},{"g":"Lypd1","x":79,"v":4},{"g":"Lypd1","x":80,"v":4},{"g":"Lypd1","x":82,"v":9},{"g":"Lypd1","x":87,"v":2},{"g":"Lypd1","x":88,"v":7},{"g":"Lypd1","x":89,"v":5},{"g":"Lypd1","x":90,"v":4},{"g":"Lypd1","x":92,"v":4},{"g":"Lypd1","x":94,"v":4},{"g":"Lypd1","x":96,"v":6},{"g":"Lypd1","x":97,"v":4},{"g":"Lypd1","x":98,"v":6},{"g":"Lypd1","x":99,"v":4},{"g":"Lypd1","x":102,"v":4},{"g":"Lypd1","x":103,"v":6},{"g":"Lypd1","x":104,"v":5},{"g":"Lypd1","x":105,"v":6},{"g":"Lypd1","x":106,"v":4},{"g":"Lypd1","x":111,"v":5},{"g":"Lypd1","x":112,"v":5},{"g":"Lypd1","x":115,"v":7},{"g":"Lypd1","x":117,"v":8},{"g":"Lypd1","x":118,"v":5},{"g":"Lypd1","x":120,"v":5},
{"g":"Meis2","x":1,"v":3},{"g":"Meis2","x":2,"v":3},{"g":"Meis2","x":4,"v":7},{"g":"Meis2","x":7,"v":5},{"g":"Meis2","x":8,"v":7},{"g":"Meis2","x":9,"v":3},{"g":"Meis2","x":10,"v":5},{"g":"Meis2","x":11,"v":5},{"g":"Meis2","x":12,"v":9},{"g":"Meis2","x":13,"v":6},{"g":"Meis2","x":15,"v":4},{"g":"Meis2","x":16,"v":4},{"g":"Meis2","x":18,"v":4},{"g":"Meis2","x":20,"v":4},{"g":"Meis2","x":22,"v":8},{"g":"Meis2","x":23,"v":6},{"g":"Meis2","x":24,"v":5},{"g":"Meis2","x":27,"v":5},{"g":"Meis2","x":28,"v":4},{"g":"Meis2","x":29,"v":3},{"g":"Meis2","x":30,"v":3},{"g":"Meis2","x":31,"v":5},{"g":"Meis2","x":33,"v":4},{"g":"Meis2","x":35,"v":5},{"g":"Meis2","x":36,"v":6},{"g":"Meis2","x":37,"v":5},{"g":"Meis2","x":38,"v":5},{"g":"Meis2","x":39,"v":4},{"g":"Meis2","x":40,"v":8},{"g":"Meis2","x":41,"v":5},{"g":"Meis2","x":42,"v":7},{"g":"Meis2","x":43,"v":6},{"g":"Meis2","x":44,"v":6},{"g":"Meis2","x":45,"v":5},
{"g":"Tenm1","x":1,"v":3},{"g":"Tenm1","x":2,"v":4},{"g":"Tenm1","x":4,"v":5},{"g":"Tenm1","x":6,"v":5},{"g":"Tenm1","x":7,"v":3},{"g":"Tenm1","x":8,"v":4},{"g":"Tenm1","x":9,"v":4},{"g":"Tenm1","x":10,"v":3},{"g":"Tenm1","x":11,"v":4},{"g":"Tenm1","x":12,"v":6},{"g":"Tenm1","x":13,"v":6},{"g":"Tenm1","x":15,"v":5},{"g":"Tenm1","x":16,"v":4},{"g":"Tenm1","x":17,"v":4},{"g":"Tenm1","x":18,"v":6},{"g":"Tenm1","x":19,"v":7},{"g":"Tenm1","x":20,"v":5},{"g":"Tenm1","x":22,"v":4},{"g":"Tenm1","x":23,"v":5},{"g":"Tenm1","x":25,"v":6},{"g":"Tenm1","x":27,"v":5},{"g":"Tenm1","x":28,"v":3},{"g":"Tenm1","x":29,"v":4},{"g":"Tenm1","x":30,"v":3},{"g":"Tenm1","x":31,"v":2},{"g":"Tenm1","x":33,"v":5},{"g":"Tenm1","x":34,"v":3},{"g":"Tenm1","x":35,"v":5},{"g":"Tenm1","x":36,"v":6},{"g":"Tenm1","x":37,"v":7},{"g":"Tenm1","x":38,"v":5},{"g":"Tenm1","x":39,"v":4},{"g":"Tenm1","x":40,"v":7},{"g":"Tenm1","x":43,"v":4},{"g":"Tenm1","x":44,"v":6},{"g":"Tenm1","x":45,"v":6},{"g":"Tenm1","x":46,"v":4},{"g":"Tenm1","x":50,"v":9},
{"g":"Tenm1","x":52,"v":3},{"g":"Tenm1","x":54,"v":4},{"g":"Tenm1","x":56,"v":4},{"g":"Tenm1","x":62,"v":4},{"g":"Tenm1","x":63,"v":2},{"g":"Tenm1","x":65,"v":3},{"g":"Tenm1","x":67,"v":3},{"g":"Tenm1","x":68,"v":3},{"g":"Tenm1","x":73,"v":4},{"g":"Tenm1","x":80,"v":4},{"g":"Tenm1","x":84,"v":4},{"g":"Tenm1","x":92,"v":5},{"g":"Tenm1","x":98,"v":4},{"g":"Tenm1","x":101,"v":4},{"g":"Tenm1","x":105,"v":4},{"g":"Tenm1","x":115,"v":5},{"g":"Tenm1","x":116,"v":5},
{"g":"Ahi1","x":1,"v":7},{"g":"Ahi1","x":2,"v":4},{"g":"Ahi1","x":3,"v":6},{"g":"Ahi1","x":4,"v":5},{"g":"Ahi1","x":5,"v":7},{"g":"Ahi1","x":6,"v":5},{"g":"Ahi1","x":7,"v":7},{"g":"Ahi1","x":8,"v":4},{"g":"Ahi1","x":9,"v":5},{"g":"Ahi1","x":10,"v":8},{"g":"Ahi1","x":11,"v":6},{"g":"Ahi1","x":12,"v":7},{"g":"Ahi1","x":13,"v":4},{"g":"Ahi1","x":14,"v":6},{"g":"Ahi1","x":15,"v":3},{"g":"Ahi1","x":16,"v":5},{"g":"Ahi1","x":17,"v":8},{"g":"Ahi1","x":18,"v":6},{"g":"Ahi1","x":19,"v":6},{"g":"Ahi1","x":20,"v":6},{"g":"Ahi1","x":21,"v":4},{"g":"Ahi1","x":22,"v":8},{"g":"Ahi1","x":23,"v":4},{"g":"Ahi1","x":24,"v":4},{"g":"Ahi1","x":26,"v":6},{"g":"Ahi1","x":27,"v":5},{"g":"Ahi1","x":28,"v":6},{"g":"Ahi1","x":29,"v":5},{"g":"Ahi1","x":30,"v":7},{"g":"Ahi1","x":31,"v":4},{"g":"Ahi1","x":32,"v":3},{"g":"Ahi1","x":33,"v":6},{"g":"Ahi1","x":34,"v":7},{"g":"Ahi1","x":35,"v":7},{"g":"Ahi1","x":36,"v":6},{"g":"Ahi1","x":37,"v":3},{"g":"Ahi1","x":38,"v":5},{"g":"Ahi1","x":39,"v":5},{"g":"Ahi1","x":40,"v":6},{"g":"Ahi1","x":41,"v":9},{"g":"Ahi1","x":42,"v":6},{"g":"Ahi1","x":43,"v":6},{"g":"Ahi1","x":44,"v":6},{"g":"Ahi1","x":47,"v":6},{"g":"Ahi1","x":48,"v":7},{"g":"Ahi1","x":49,"v":8},{"g":"Ahi1","x":50,"v":5},
{"g":"Ahi1","x":51,"v":5},{"g":"Ahi1","x":52,"v":5},{"g":"Ahi1","x":53,"v":3},{"g":"Ahi1","x":56,"v":4},{"g":"Ahi1","x":59,"v":4},{"g":"Ahi1","x":61,"v":4},{"g":"Ahi1","x":62,"v":4},{"g":"Ahi1","x":63,"v":2},{"g":"Ahi1","x":64,"v":3},{"g":"Ahi1","x":66,"v":4},{"g":"Ahi1","x":67,"v":3},{"g":"Ahi1","x":68,"v":3},{"g":"Ahi1","x":69,"v":4},{"g":"Ahi1","x":70,"v":6},{"g":"Ahi1","x":71,"v":5},{"g":"Ahi1","x":72,"v":4},{"g":"Ahi1","x":73,"v":5},{"g":"Ahi1","x":74,"v":5},{"g":"Ahi1","x":75,"v":5},{"g":"Ahi1","x":76,"v":4},{"g":"Ahi1","x":77,"v":6},{"g":"Ahi1","x":78,"v":5},{"g":"Ahi1","x":79,"v":3},{"g":"Ahi1","x":80,"v":4},{"g":"Ahi1","x":82,"v":4},{"g":"Ahi1","x":83,"v":4},{"g":"Ahi1","x":84,"v":4},{"g":"Ahi1","x":85,"v":4},{"g":"Ahi1","x":87,"v":5},{"g":"Ahi1","x":88,"v":6},{"g":"Ahi1","x":89,"v":3},{"g":"Ahi1","x":90,"v":4},{"g":"Ahi1","x":91,"v":3},{"g":"Ahi1","x":92,"v":4},{"g":"Ahi1","x":93,"v":3},{"g":"Ahi1","x":94,"v":5},{"g":"Ahi1","x":95,"v":3},{"g":"Ahi1","x":96,"v":3},{"g":"Ahi1","x":97,"v":3},{"g":"Ahi1","x":98,"v":3},{"g":"Ahi1","x":99,"v":3},{"g":"Ahi1","x":100,"v":3},{"g":"Ahi1","x":101,"v":4},{"g":"Ahi1","x":103,"v":4},{"g":"Ahi1","x":104,"v":4},{"g":"Ahi1","x":105,"v":5},{"g":"Ahi1","x":106,"v":4},{"g":"Ahi1","x":110,"v":6},{"g":"Ahi1","x":114,"v":6},{"g":"Ahi1","x":115,"v":4},{"g":"Ahi1","x":116,"v":4},{"g":"Ahi1","x":117,"v":4},{"g":"Ahi1","x":118,"v":4},{"g":"Ahi1","x":119,"v":3},{"g":"Ahi1","x":120,"v":4},
{"g":"Vgf","x":1,"v":4},{"g":"Vgf","x":2,"v":5},{"g":"Vgf","x":3,"v":6},{"g":"Vgf","x":4,"v":6},{"g":"Vgf","x":5,"v":5},{"g":"Vgf","x":6,"v":7},{"g":"Vgf","x":7,"v":7},{"g":"Vgf","x":8,"v":3},{"g":"Vgf","x":9,"v":4},{"g":"Vgf","x":10,"v":5},{"g":"Vgf","x":11,"v":4},{"g":"Vgf","x":12,"v":7},{"g":"Vgf","x":13,"v":3},{"g":"Vgf","x":14,"v":6},{"g":"Vgf","x":15,"v":4},{"g":"Vgf","x":16,"v":7},{"g":"Vgf","x":17,"v":4},{"g":"Vgf","x":18,"v":8},{"g":"Vgf","x":19,"v":5},{"g":"Vgf","x":24,"v":5},{"g":"Vgf","x":25,"v":5},{"g":"Vgf","x":27,"v":7},{"g":"Vgf","x":28,"v":4},{"g":"Vgf","x":29,"v":3},{"g":"Vgf","x":30,"v":7},{"g":"Vgf","x":31,"v":6},{"g":"Vgf","x":32,"v":6},{"g":"Vgf","x":33,"v":7},{"g":"Vgf","x":34,"v":4},{"g":"Vgf","x":35,"v":7},{"g":"Vgf","x":36,"v":4},{"g":"Vgf","x":37,"v":6},{"g":"Vgf","x":38,"v":4},{"g":"Vgf","x":39,"v":5},{"g":"Vgf","x":40,"v":7},{"g":"Vgf","x":42,"v":9},{"g":"Vgf","x":43,"v":6},{"g":"Vgf","x":44,"v":8},{"g":"Vgf","x":46,"v":5},{"g":"Vgf","x":48,"v":7},{"g":"Vgf","x":49,"v":6},{"g":"Vgf","x":50,"v":7},
{"g":"Vgf","x":53,"v":5},{"g":"Vgf","x":58,"v":5},{"g":"Vgf","x":62,"v":4},{"g":"Vgf","x":66,"v":6},{"g":"Vgf","x":71,"v":4},{"g":"Vgf","x":73,"v":4},{"g":"Vgf","x":83,"v":5},{"g":"Vgf","x":88,"v":5},{"g":"Vgf","x":90,"v":8},{"g":"Vgf","x":105,"v":4},{"g":"Vgf","x":110,"v":5},{"g":"Vgf","x":113,"v":5},{"g":"Vgf","x":119,"v":5},
{"g":"Nrn1","x":1,"v":4},{"g":"Nrn1","x":3,"v":4},{"g":"Nrn1","x":5,"v":5},{"g":"Nrn1","x":6,"v":9},{"g":"Nrn1","x":8,"v":4},{"g":"Nrn1","x":9,"v":3},{"g":"Nrn1","x":10,"v":3},{"g":"Nrn1","x":11,"v":3},{"g":"Nrn1","x":12,"v":3},{"g":"Nrn1","x":13,"v":4},{"g":"Nrn1","x":15,"v":4},{"g":"Nrn1","x":17,"v":4},{"g":"Nrn1","x":19,"v":4},{"g":"Nrn1","x":20,"v":5},{"g":"Nrn1","x":21,"v":5},{"g":"Nrn1","x":22,"v":5},{"g":"Nrn1","x":27,"v":5},{"g":"Nrn1","x":28,"v":4},{"g":"Nrn1","x":29,"v":4},{"g":"Nrn1","x":30,"v":3},{"g":"Nrn1","x":31,"v":4},{"g":"Nrn1","x":32,"v":6},{"g":"Nrn1","x":34,"v":4},{"g":"Nrn1","x":35,"v":4},{"g":"Nrn1","x":36,"v":4},{"g":"Nrn1","x":38,"v":4},{"g":"Nrn1","x":41,"v":5},{"g":"Nrn1","x":42,"v":5},{"g":"Nrn1","x":45,"v":5},{"g":"Nrn1","x":47,"v":5},{"g":"Nrn1","x":49,"v":6},
{"g":"C1ql3","x":3,"v":6},{"g":"C1ql3","x":4,"v":6},{"g":"C1ql3","x":5,"v":5},{"g":"C1ql3","x":7,"v":4},{"g":"C1ql3","x":12,"v":4},{"g":"C1ql3","x":14,"v":4},{"g":"C1ql3","x":17,"v":7},{"g":"C1ql3","x":18,"v":5},{"g":"C1ql3","x":19,"v":5},{"g":"C1ql3","x":27,"v":6},{"g":"C1ql3","x":34,"v":6},{"g":"C1ql3","x":37,"v":6},{"g":"C1ql3","x":44,"v":7},{"g":"C1ql3","x":45,"v":9},{"g":"C1ql3","x":46,"v":8},{"g":"C1ql3","x":48,"v":8},{"g":"C1ql3","x":49,"v":8},{"g":"C1ql3","x":50,"v":8},
{"g":"Pax6","x":4,"v":7},{"g":"Pax6","x":5,"v":6},{"g":"Pax6","x":6,"v":7},{"g":"Pax6","x":7,"v":2},{"g":"Pax6","x":8,"v":4},{"g":"Pax6","x":9,"v":6},{"g":"Pax6","x":10,"v":7},{"g":"Pax6","x":11,"v":8},{"g":"Pax6","x":12,"v":7},{"g":"Pax6","x":13,"v":5},{"g":"Pax6","x":14,"v":7},{"g":"Pax6","x":15,"v":7},{"g":"Pax6","x":23,"v":6},{"g":"Pax6","x":24,"v":7},{"g":"Pax6","x":27,"v":3},{"g":"Pax6","x":28,"v":5},{"g":"Pax6","x":29,"v":4},{"g":"Pax6","x":30,"v":4},{"g":"Pax6","x":31,"v":4},{"g":"Pax6","x":33,"v":7},{"g":"Pax6","x":34,"v":8},{"g":"Pax6","x":35,"v":5},{"g":"Pax6","x":36,"v":7},{"g":"Pax6","x":38,"v":5},{"g":"Pax6","x":41,"v":6},{"g":"Pax6","x":45,"v":7},{"g":"Pax6","x":47,"v":6},{"g":"Pax6","x":49,"v":7},
{"g":"Pax6","x":100,"v":6},
{"g":"Pvalb","x":31,"v":4},{"g":"Pvalb","x":33,"v":5},{"g":"Pvalb","x":44,"v":6},
{"g":"Pvalb","x":51,"v":8},{"g":"Pvalb","x":52,"v":6},{"g":"Pvalb","x":53,"v":7},{"g":"Pvalb","x":54,"v":7},{"g":"Pvalb","x":55,"v":7},{"g":"Pvalb","x":56,"v":6},{"g":"Pvalb","x":57,"v":6},{"g":"Pvalb","x":58,"v":6},{"g":"Pvalb","x":61,"v":4},{"g":"Pvalb","x":63,"v":3},{"g":"Pvalb","x":64,"v":6},{"g":"Pvalb","x":65,"v":5},{"g":"Pvalb","x":67,"v":6},{"g":"Pvalb","x":69,"v":8},{"g":"Pvalb","x":71,"v":8},{"g":"Pvalb","x":72,"v":5},{"g":"Pvalb","x":73,"v":8},{"g":"Pvalb","x":78,"v":6},{"g":"Pvalb","x":79,"v":9},{"g":"Pvalb","x":80,"v":9},{"g":"Pvalb","x":82,"v":9},{"g":"Pvalb","x":83,"v":6},{"g":"Pvalb","x":86,"v":6},{"g":"Pvalb","x":87,"v":9},{"g":"Pvalb","x":88,"v":8},{"g":"Pvalb","x":90,"v":7},{"g":"Pvalb","x":91,"v":5},{"g":"Pvalb","x":92,"v":6},{"g":"Pvalb","x":93,"v":5},{"g":"Pvalb","x":94,"v":6},{"g":"Pvalb","x":95,"v":5},{"g":"Pvalb","x":96,"v":8},{"g":"Pvalb","x":97,"v":9},{"g":"Pvalb","x":98,"v":6},{"g":"Pvalb","x":99,"v":9},{"g":"Pvalb","x":100,"v":7},{"g":"Pvalb","x":101,"v":8},{"g":"Pvalb","x":102,"v":6},{"g":"Pvalb","x":103,"v":8},{"g":"Pvalb","x":104,"v":6},{"g":"Pvalb","x":105,"v":6},{"g":"Pvalb","x":106,"v":8},{"g":"Pvalb","x":107,"v":8},{"g":"Pvalb","x":108,"v":6},{"g":"Pvalb","x":110,"v":9},{"g":"Pvalb","x":112,"v":6},{"g":"Pvalb","x":113,"v":7},{"g":"Pvalb","x":114,"v":7},{"g":"Pvalb","x":116,"v":7},{"g":"Pvalb","x":118,"v":5},
{"g":"Kcna1","x":3,"v":3},{"g":"Kcna1","x":6,"v":5},{"g":"Kcna1","x":7,"v":3},{"g":"Kcna1","x":8,"v":3},{"g":"Kcna1","x":9,"v":5},{"g":"Kcna1","x":10,"v":4},{"g":"Kcna1","x":11,"v":3},{"g":"Kcna1","x":13,"v":3},{"g":"Kcna1","x":14,"v":5},{"g":"Kcna1","x":18,"v":4},{"g":"Kcna1","x":23,"v":4},{"g":"Kcna1","x":27,"v":2},{"g":"Kcna1","x":28,"v":3},{"g":"Kcna1","x":29,"v":3},{"g":"Kcna1","x":30,"v":4},{"g":"Kcna1","x":32,"v":3},{"g":"Kcna1","x":33,"v":4},{"g":"Kcna1","x":35,"v":4},{"g":"Kcna1","x":38,"v":4},{"g":"Kcna1","x":42,"v":4},{"g":"Kcna1","x":43,"v":4},{"g":"Kcna1","x":44,"v":4},{"g":"Kcna1","x":48,"v":5},{"g":"Kcna1","x":50,"v":5},
{"g":"Kcna1","x":51,"v":5},{"g":"Kcna1","x":52,"v":6},{"g":"Kcna1","x":53,"v":4},{"g":"Kcna1","x":54,"v":6},{"g":"Kcna1","x":55,"v":7},{"g":"Kcna1","x":56,"v":5},{"g":"Kcna1","x":57,"v":7},{"g":"Kcna1","x":58,"v":5},{"g":"Kcna1","x":59,"v":6},{"g":"Kcna1","x":61,"v":6},{"g":"Kcna1","x":62,"v":7},{"g":"Kcna1","x":63,"v":5},{"g":"Kcna1","x":64,"v":7},{"g":"Kcna1","x":65,"v":4},{"g":"Kcna1","x":66,"v":8},{"g":"Kcna1","x":67,"v":6},{"g":"Kcna1","x":68,"v":7},{"g":"Kcna1","x":69,"v":6},{"g":"Kcna1","x":70,"v":7},{"g":"Kcna1","x":71,"v":5},{"g":"Kcna1","x":72,"v":8},{"g":"Kcna1","x":73,"v":6},{"g":"Kcna1","x":74,"v":7},{"g":"Kcna1","x":75,"v":5},{"g":"Kcna1","x":76,"v":8},{"g":"Kcna1","x":77,"v":6},{"g":"Kcna1","x":79,"v":7},{"g":"Kcna1","x":80,"v":8},{"g":"Kcna1","x":81,"v":6},{"g":"Kcna1","x":82,"v":5},{"g":"Kcna1","x":83,"v":7},{"g":"Kcna1","x":84,"v":8},{"g":"Kcna1","x":85,"v":6},{"g":"Kcna1","x":86,"v":8},{"g":"Kcna1","x":87,"v":7},{"g":"Kcna1","x":88,"v":5},{"g":"Kcna1","x":89,"v":6},{"g":"Kcna1","x":90,"v":8},{"g":"Kcna1","x":91,"v":7},{"g":"Kcna1","x":92,"v":5},{"g":"Kcna1","x":93,"v":8},{"g":"Kcna1","x":94,"v":6},{"g":"Kcna1","x":95,"v":8},{"g":"Kcna1","x":96,"v":7},{"g":"Kcna1","x":97,"v":8},{"g":"Kcna1","x":99,"v":7},{"g":"Kcna1","x":100,"v":6},{"g":"Kcna1","x":101,"v":6},{"g":"Kcna1","x":102,"v":8},{"g":"Kcna1","x":103,"v":5},{"g":"Kcna1","x":104,"v":7},{"g":"Kcna1","x":105,"v":8},{"g":"Kcna1","x":106,"v":6},{"g":"Kcna1","x":107,"v":8},{"g":"Kcna1","x":108,"v":5},{"g":"Kcna1","x":109,"v":7},{"g":"Kcna1","x":110,"v":6},{"g":"Kcna1","x":111,"v":7},{"g":"Kcna1","x":113,"v":8},{"g":"Kcna1","x":114,"v":7},{"g":"Kcna1","x":115,"v":6},{"g":"Kcna1","x":116,"v":8},{"g":"Kcna1","x":117,"v":6},{"g":"Kcna1","x":118,"v":8},{"g":"Kcna1","x":119,"v":5},{"g":"Kcna1","x":120,"v":8},
{"g":"Scn4b","x":6,"v":6},{"g":"Scn4b","x":13,"v":4},{"g":"Scn4b","x":25,"v":5},
{"g":"Scn4b","x":51,"v":9},{"g":"Scn4b","x":52,"v":6},{"g":"Scn4b","x":54,"v":5},{"g":"Scn4b","x":56,"v":6},{"g":"Scn4b","x":58,"v":5},{"g":"Scn4b","x":61,"v":4},{"g":"Scn4b","x":63,"v":5},{"g":"Scn4b","x":66,"v":5},{"g":"Scn4b","x":68,"v":8},{"g":"Scn4b","x":70,"v":6},{"g":"Scn4b","x":72,"v":6},{"g":"Scn4b","x":74,"v":5},{"g":"Scn4b","x":76,"v":6},{"g":"Scn4b","x":79,"v":5},{"g":"Scn4b","x":80,"v":6},{"g":"Scn4b","x":81,"v":5},{"g":"Scn4b","x":84,"v":6},{"g":"Scn4b","x":86,"v":5},{"g":"Scn4b","x":88,"v":6},{"g":"Scn4b","x":91,"v":8},{"g":"Scn4b","x":93,"v":6},{"g":"Scn4b","x":94,"v":5},{"g":"Scn4b","x":97,"v":6},{"g":"Scn4b","x":99,"v":5},{"g":"Scn4b","x":101,"v":6},{"g":"Scn4b","x":102,"v":5},{"g":"Scn4b","x":104,"v":6},{"g":"Scn4b","x":108,"v":8},{"g":"Scn4b","x":110,"v":6},{"g":"Scn4b","x":111,"v":5},{"g":"Scn4b","x":115,"v":6},{"g":"Scn4b","x":117,"v":6},
{"g":"Tenm3","x":54,"v":6},{"g":"Tenm3","x":55,"v":7},{"g":"Tenm3","x":58,"v":5},{"g":"Tenm3","x":60,"v":6},{"g":"Tenm3","x":63,"v":7},{"g":"Tenm3","x":64,"v":4},{"g":"Tenm3","x":66,"v":5},{"g":"Tenm3","x":67,"v":6},{"g":"Tenm3","x":68,"v":7},{"g":"Tenm3","x":69,"v":5},{"g":"Tenm3","x":71,"v":6},{"g":"Tenm3","x":73,"v":7},{"g":"Tenm3","x":75,"v":4},{"g":"Tenm3","x":77,"v":6},{"g":"Tenm3","x":82,"v":8},{"g":"Tenm3","x":84,"v":5},{"g":"Tenm3","x":86,"v":4},{"g":"Tenm3","x":88,"v":5},{"g":"Tenm3","x":91,"v":7},{"g":"Tenm3","x":94,"v":6},{"g":"Tenm3","x":96,"v":7},{"g":"Tenm3","x":100,"v":6},{"g":"Tenm3","x":101,"v":7},{"g":"Tenm3","x":103,"v":8},{"g":"Tenm3","x":106,"v":6},{"g":"Tenm3","x":109,"v":7},{"g":"Tenm3","x":112,"v":8},{"g":"Tenm3","x":117,"v":6},
{"g":"Kcna2","x":2,"v":3},{"g":"Kcna2","x":4,"v":5},{"g":"Kcna2","x":5,"v":4},{"g":"Kcna2","x":6,"v":5},{"g":"Kcna2","x":7,"v":4},{"g":"Kcna2","x":8,"v":3},{"g":"Kcna2","x":9,"v":4},{"g":"Kcna2","x":10,"v":2},{"g":"Kcna2","x":11,"v":5},{"g":"Kcna2","x":12,"v":3},{"g":"Kcna2","x":13,"v":3},{"g":"Kcna2","x":15,"v":5},{"g":"Kcna2","x":16,"v":3},{"g":"Kcna2","x":17,"v":5},{"g":"Kcna2","x":19,"v":4},{"g":"Kcna2","x":21,"v":4},{"g":"Kcna2","x":23,"v":6},{"g":"Kcna2","x":24,"v":6},{"g":"Kcna2","x":25,"v":4},{"g":"Kcna2","x":26,"v":4},{"g":"Kcna2","x":27,"v":5},{"g":"Kcna2","x":28,"v":5},{"g":"Kcna2","x":29,"v":3},{"g":"Kcna2","x":30,"v":4},{"g":"Kcna2","x":31,"v":4},{"g":"Kcna2","x":32,"v":4},{"g":"Kcna2","x":33,"v":2},{"g":"Kcna2","x":34,"v":3},{"g":"Kcna2","x":35,"v":3},{"g":"Kcna2","x":36,"v":3},{"g":"Kcna2","x":37,"v":6},{"g":"Kcna2","x":38,"v":3},{"g":"Kcna2","x":39,"v":5},{"g":"Kcna2","x":40,"v":4},{"g":"Kcna2","x":41,"v":4},{"g":"Kcna2","x":42,"v":6},{"g":"Kcna2","x":43,"v":5},{"g":"Kcna2","x":44,"v":5},{"g":"Kcna2","x":45,"v":7},{"g":"Kcna2","x":47,"v":7},{"g":"Kcna2","x":48,"v":6},{"g":"Kcna2","x":49,"v":5},{"g":"Kcna2","x":50,"v":6},
{"g":"Kcna2","x":51,"v":6},{"g":"Kcna2","x":52,"v":7},{"g":"Kcna2","x":53,"v":5},{"g":"Kcna2","x":54,"v":6},{"g":"Kcna2","x":55,"v":7},{"g":"Kcna2","x":56,"v":6},{"g":"Kcna2","x":57,"v":8},{"g":"Kcna2","x":58,"v":5},{"g":"Kcna2","x":59,"v":6},{"g":"Kcna2","x":60,"v":7},{"g":"Kcna2","x":61,"v":6},{"g":"Kcna2","x":62,"v":8},{"g":"Kcna2","x":63,"v":5},{"g":"Kcna2","x":64,"v":7},{"g":"Kcna2","x":65,"v":6},{"g":"Kcna2","x":66,"v":8},{"g":"Kcna2","x":67,"v":7},{"g":"Kcna2","x":68,"v":5},{"g":"Kcna2","x":69,"v":8},{"g":"Kcna2","x":70,"v":6},{"g":"Kcna2","x":71,"v":7},{"g":"Kcna2","x":72,"v":8},{"g":"Kcna2","x":73,"v":6},{"g":"Kcna2","x":74,"v":8},{"g":"Kcna2","x":75,"v":5},{"g":"Kcna2","x":76,"v":7},{"g":"Kcna2","x":77,"v":8},{"g":"Kcna2","x":78,"v":6},{"g":"Kcna2","x":79,"v":8},{"g":"Kcna2","x":80,"v":7},{"g":"Kcna2","x":81,"v":6},{"g":"Kcna2","x":82,"v":8},{"g":"Kcna2","x":83,"v":5},{"g":"Kcna2","x":84,"v":7},{"g":"Kcna2","x":85,"v":8},{"g":"Kcna2","x":86,"v":6},{"g":"Kcna2","x":87,"v":8},{"g":"Kcna2","x":88,"v":6},{"g":"Kcna2","x":89,"v":7},{"g":"Kcna2","x":90,"v":5},{"g":"Kcna2","x":91,"v":7},{"g":"Kcna2","x":92,"v":8},{"g":"Kcna2","x":93,"v":6},{"g":"Kcna2","x":94,"v":8},{"g":"Kcna2","x":95,"v":6},{"g":"Kcna2","x":96,"v":8},{"g":"Kcna2","x":97,"v":7},{"g":"Kcna2","x":98,"v":5},{"g":"Kcna2","x":99,"v":7},{"g":"Kcna2","x":100,"v":8},{"g":"Kcna2","x":101,"v":6},{"g":"Kcna2","x":102,"v":8},{"g":"Kcna2","x":103,"v":7},{"g":"Kcna2","x":104,"v":8},{"g":"Kcna2","x":105,"v":5},{"g":"Kcna2","x":106,"v":8},{"g":"Kcna2","x":107,"v":6},{"g":"Kcna2","x":108,"v":8},{"g":"Kcna2","x":109,"v":7},{"g":"Kcna2","x":110,"v":8},{"g":"Kcna2","x":111,"v":7},{"g":"Kcna2","x":112,"v":5},{"g":"Kcna2","x":113,"v":8},{"g":"Kcna2","x":114,"v":6},{"g":"Kcna2","x":115,"v":8},{"g":"Kcna2","x":116,"v":7},{"g":"Kcna2","x":117,"v":8},{"g":"Kcna2","x":118,"v":6},{"g":"Kcna2","x":119,"v":7},{"g":"Kcna2","x":120,"v":5}
]
},
"hconcat": [
{
"vconcat": [
{
"data": {"name": "bars"},
"transform": [{"lookup": "g", "from": {"data": {"name": "genes"}, "key": "g", "fields": ["p", "m"]}}, {"filter": "datum.p === 'A'"}],
"title": {"text": "A", "anchor": "start", "frame": "bounds", "fontSize": 28, "fontWeight": "normal", "color": "#222222", "offset": 0, "dx": -17, "dy": 27},
"facet": {"row": {"field": "g", "type": "nominal", "sort": ["Sst","Pou2f2","Cbln1","Synpr","Tbr1","Slc17a6","Lsamp"], "header": {"title": null, "labelAngle": 0, "labelAlign": "left", "labelOrient": "left", "labelFontSize": 26, "labelFontStyle": "italic", "labelColor": "#ec2a25", "labelPadding": 19, "labelFont": "Liberation Sans"}}},
"spacing": {"row": 21.3},
"bounds": "flush",
"spec": {
"width": 415, "height": 75,
"layer": [
{"mark": {"type": "bar", "width": 2.3, "strokeWidth": 0.6},
"encoding": {
"x": {"field": "x", "type": "quantitative", "scale": {"domain": [0.5, 120.5], "nice": false, "zero": false}, "axis": {"orient": "top", "values": [26, 89], "labelExpr": "datum.value < 50 ? 'Cluster 6' : 'Cluster 5'", "labelColor": {"condition": {"test": "datum.value < 50", "value": "#1eaeea"}, "value": "#e8188c"}, "labelFontSize": 26, "labelFont": "Liberation Sans", "labelPadding": 4, "ticks": false, "domain": false, "grid": false, "title": null}},
"y": {"field": "v", "type": "quantitative", "scale": {"domain": [0, 10], "nice": false}, "axis": {"labels": false, "title": null, "grid": false, "values": [0,1,2,3,4,5,6,7,8,9,10], "tickSize": 4, "tickColor": "#9a9a9a", "domainColor": "#9a9a9a", "domainWidth": 1.5, "minExtent": 0}},
"color": {"field": "m", "type": "nominal", "scale": {"domain": ["6", "5"], "range": ["#7ccff2", "#f47fbf"]}, "legend": null},
"stroke": {"field": "m", "type": "nominal", "scale": {"domain": ["6", "5"], "range": ["#29a9e1", "#e3268f"]}, "legend": null}
}},
{"transform": [{"aggregate": [{"op": "count", "as": "n"}]}],
"mark": {"type": "rule", "color": "#a3a3a3", "strokeWidth": 2},
"encoding": {"y": {"datum": 0}}},
{"transform": [{"aggregate": [{"op": "count", "as": "n"}]}],
"mark": {"type": "rule", "color": "#111111", "strokeWidth": 2, "strokeDash": [2, 2]},
"encoding": {"x": {"datum": 50.5}, "y": {"datum": 0}, "y2": {"datum": 12.84}}}
]
}
},
{
"data": {"name": "bars"},
"transform": [{"lookup": "g", "from": {"data": {"name": "genes"}, "key": "g", "fields": ["p", "m"]}}, {"filter": "datum.p === 'B'"}],
"title": {"text": "B", "anchor": "start", "frame": "bounds", "fontSize": 28, "fontWeight": "normal", "color": "#222222", "offset": 0, "dx": -38, "dy": 28},
"facet": {"row": {"field": "g", "type": "nominal", "sort": ["Kcnc3","Nefh","Nefm","Nefl","Syt2","Lypd1"], "header": {"title": null, "labelAngle": 0, "labelAlign": "left", "labelOrient": "left", "labelFontSize": 26, "labelFontStyle": "italic", "labelColor": "#ec2a25", "labelPadding": 19, "labelFont": "Liberation Sans", "labelExpr": "'\u00a0\u00a0\u00a0' + datum.label"}}},
"spacing": {"row": 21.3},
"bounds": "flush",
"spec": {
"width": 415, "height": 75,
"layer": [
{"mark": {"type": "bar", "width": 2.3, "strokeWidth": 0.6},
"encoding": {
"x": {"field": "x", "type": "quantitative", "scale": {"domain": [0.5, 120.5], "nice": false, "zero": false}, "axis": null},
"y": {"field": "v", "type": "quantitative", "scale": {"domain": [0, 10], "nice": false}, "axis": {"labels": false, "title": null, "grid": false, "values": [0,1,2,3,4,5,6,7,8,9,10], "tickSize": 4, "tickColor": "#9a9a9a", "domainColor": "#9a9a9a", "domainWidth": 1.5, "minExtent": 0}},
"color": {"field": "m", "type": "nominal", "scale": {"domain": ["6", "5"], "range": ["#7ccff2", "#f47fbf"]}, "legend": null},
"stroke": {"field": "m", "type": "nominal", "scale": {"domain": ["6", "5"], "range": ["#29a9e1", "#e3268f"]}, "legend": null}
}},
{"transform": [{"aggregate": [{"op": "count", "as": "n"}]}],
"mark": {"type": "rule", "color": "#a3a3a3", "strokeWidth": 2},
"encoding": {"y": {"datum": 0}}},
{"transform": [{"aggregate": [{"op": "count", "as": "n"}]}],
"mark": {"type": "rule", "color": "#111111", "strokeWidth": 2, "strokeDash": [2, 2]},
"encoding": {"x": {"datum": 50.5, "axis": null}, "y": {"datum": 0}, "y2": {"datum": 12.84}}}
]
}
}
],
"spacing": 34
},
{
"data": {"name": "bars"},
"transform": [{"lookup": "g", "from": {"data": {"name": "genes"}, "key": "g", "fields": ["p", "m"]}}, {"filter": "datum.p === 'C'"}],
"title": {"text": "C", "anchor": "start", "frame": "bounds", "fontSize": 28, "fontWeight": "normal", "color": "#222222", "offset": 0, "dx": -67, "dy": 27},
"facet": {"row": {"field": "g", "type": "nominal", "sort": ["Meis2","Tenm1","Ahi1","Vgf","Nrn1","C1ql3","Pax6","Pvalb","Kcna1","Scn4b","Tenm3","Kcna2"], "header": {"title": null, "labelAngle": 0, "labelAlign": "left", "labelOrient": "left", "labelFontSize": 26, "labelFontStyle": "italic", "labelColor": "#2a2a2a", "labelPadding": 19, "labelFont": "Liberation Sans"}}},
"spacing": {"row": 21.3},
"bounds": "flush",
"spec": {
"width": 415, "height": 75,
"layer": [
{"mark": {"type": "bar", "width": 2.3, "strokeWidth": 0.6},
"encoding": {
"x": {"field": "x", "type": "quantitative", "scale": {"domain": [0.5, 120.5], "nice": false, "zero": false}, "axis": {"orient": "top", "values": [26, 89], "labelExpr": "datum.value < 50 ? 'Cluster 6' : 'Cluster 5'", "labelColor": {"condition": {"test": "datum.value < 50", "value": "#1eaeea"}, "value": "#e8188c"}, "labelFontSize": 26, "labelFont": "Liberation Sans", "labelPadding": 4, "ticks": false, "domain": false, "grid": false, "title": null}},
"y": {"field": "v", "type": "quantitative", "scale": {"domain": [0, 10], "nice": false}, "axis": {"labels": false, "title": null, "grid": false, "values": [0,1,2,3,4,5,6,7,8,9,10], "tickSize": 4, "tickColor": "#9a9a9a", "domainColor": "#9a9a9a", "domainWidth": 1.5, "minExtent": 0}},
"color": {"field": "m", "type": "nominal", "scale": {"domain": ["6", "5"], "range": ["#7ccff2", "#f47fbf"]}, "legend": null},
"stroke": {"field": "m", "type": "nominal", "scale": {"domain": ["6", "5"], "range": ["#29a9e1", "#e3268f"]}, "legend": null}
}},
{"transform": [{"aggregate": [{"op": "count", "as": "n"}]}],
"mark": {"type": "rule", "color": "#a3a3a3", "strokeWidth": 2},
"encoding": {"y": {"datum": 0}}},
{"transform": [{"aggregate": [{"op": "count", "as": "n"}]}],
"mark": {"type": "rule", "color": "#111111", "strokeWidth": 2, "strokeDash": [2, 2]},
"encoding": {"x": {"datum": 50.5}, "y": {"datum": 0}, "y2": {"datum": 12.84}}}
]
}
}
],
"spacing": 85
}
